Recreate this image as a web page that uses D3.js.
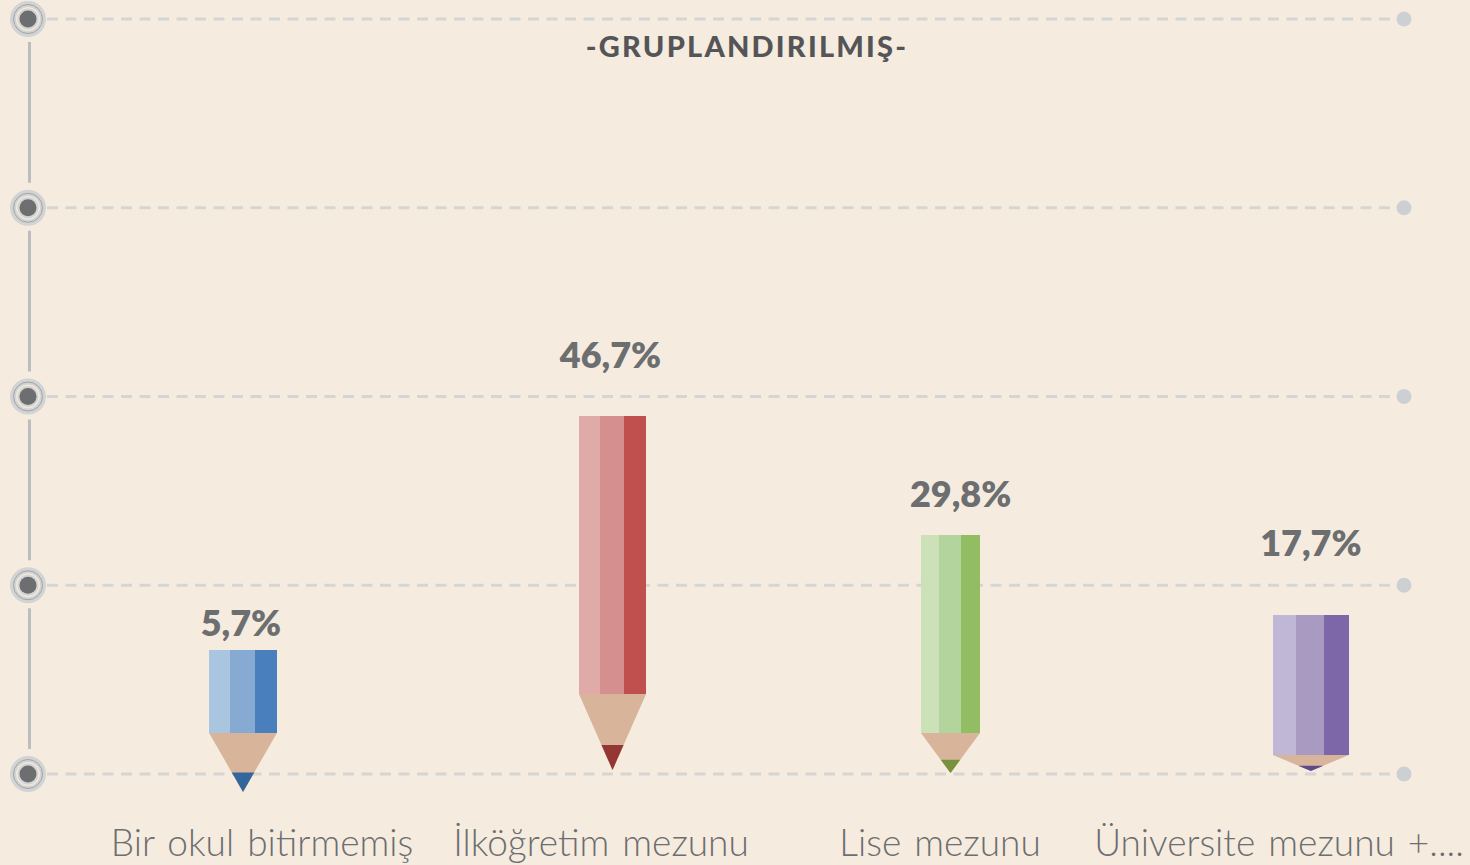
<!DOCTYPE html>
<html>
<head>
<meta charset="utf-8">
<script src="https://cdn.jsdelivr.net/npm/d3@7"></script>
<style>
  body { margin: 0; background: #f5ecdf; }
  svg { display: block; }
</style>
</head>
<body>
<div id="chart"></div>
<script>
// data
const categories = ['Bir okul bitirmemiş', 'İlköğretim mezunu', 'Lise mezunu', 'Üniversite mezunu +....'];
const values = [5.7, 46.7, 29.8, 17.7];
const gridLevels = [0, 1, 2, 3, 4];
const title = '-GRUPLANDIRILMIŞ-';

// pencil look (grid units / band fractions)
const pencilBase = [0.217, 0.424, 0.217, 0.101];
const pencilPoint = [-0.095, 0.021, 0.005, 0.016];
const labelLevel = [0.731, 2.151, 1.415, 1.155];
const labelShift = [-0.006, -0.006, 0.03, 0];
const pencilShift = [-0.056, 0.034, 0.031, 0.094];
const pencilWidth = [0.2, 0.198, 0.174, 0.224];

const stripeColors = [
  ['#aac5e0', '#87aad3', '#4a7fbd'],
  ['#e0aaa9', '#d48f8e', '#c0504d'],
  ['#cde1b9', '#b3d49c', '#93bd62'],
  ['#c0b6d5', '#a99ac2', '#7d67a8'],
];
const leadColors = ['#33669c', '#943634', '#76923c', '#5f4a8b'];
const woodColor = '#d8b49a';
const stripeShare = [0.31, 0.36, 0.33];
const leadShare = 0.33;

const WIDTH = 1470;
const HEIGHT = 865;
const LINE_LEFT = 47;
const LINE_RIGHT = 1396;
const AXIS_X = 28;
const textGray = '#6d6e70';

const trLocale = d3.formatLocale({ decimal: ',', thousands: '.', grouping: [3], currency: ['', ''] });
const pct = (v) => trLocale.format('.1f')(v) + '%';

const svg = d3.select('#chart').append('svg').attr('width', WIDTH).attr('height', HEIGHT);

svg.append('rect').attr('width', WIDTH).attr('height', HEIGHT).attr('fill', '#f5ecdf');

const yScale = d3.scaleLinear().domain([0, 4]).range([774, 19]);
const lengthScale = d3.scaleLinear().domain([0, 50]).range([0.296, 1.557]);
const xScale = d3.scaleBand().domain(categories).range([92.5, 1448.5]);

// grid lines
svg
  .append('g')
  .selectAll('line')
  .data(gridLevels)
  .join('line')
  .attr('x1', LINE_LEFT)
  .attr('x2', LINE_RIGHT)
  .attr('y1', (d) => yScale(d))
  .attr('y2', (d) => yScale(d))
  .attr('stroke', '#d5d5d3')
  .attr('stroke-width', 3)
  .attr('stroke-dasharray', '11 7.5');

svg
  .append('g')
  .selectAll('circle')
  .data(gridLevels)
  .join('circle')
  .attr('cx', 1404)
  .attr('cy', (d) => yScale(d))
  .attr('r', 7.5)
  .attr('fill', '#cdd0d2');

// vertical axis pieces between the markers
svg
  .append('g')
  .selectAll('line')
  .data(gridLevels.slice(1))
  .join('line')
  .attr('x1', AXIS_X + 1.5)
  .attr('x2', AXIS_X + 1.5)
  .attr('y1', (d) => yScale(d) + 23)
  .attr('y2', (d) => yScale(d - 1) - 25)
  .attr('stroke', '#bcbdbe')
  .attr('stroke-width', 3);

const markers = svg
  .append('g')
  .selectAll('g')
  .data(gridLevels)
  .join('g')
  .attr('transform', (d) => `translate(${AXIS_X}, ${yScale(d)})`);

markers.append('circle').attr('r', 18).attr('fill', '#d2d3d4');
markers.append('circle').attr('r', 14.5).attr('fill', 'none').attr('stroke', '#a2a3a5').attr('stroke-width', 1);
markers.append('circle').attr('r', 12).attr('fill', '#f1e8da');
markers.append('circle').attr('r', 10.5).attr('fill', '#d2d3d4');
markers.append('circle').attr('r', 8.5).attr('fill', textGray);

// title
svg
  .append('text')
  .attr('x', 747)
  .attr('y', 57)
  .attr('text-anchor', 'middle')
  .attr('font-family', 'Lato, sans-serif')
  .attr('font-weight', 900)
  .attr('font-size', 29)
  .attr('letter-spacing', 2.2)
  .attr('fill', '#555557')
  .text(title);

// pencils
svg
  .append('g')
  .selectAll('g')
  .data(values)
  .join('g')
  .each(function (v, i) {
    const g = d3.select(this);
    const band = xScale.bandwidth();
    const cx = xScale(categories[i]) + band * (0.5 + pencilShift[i]);
    const w = band * pencilWidth[i];
    const yTop = yScale(pencilBase[i] + lengthScale(v));
    const yBase = yScale(pencilBase[i]);
    const yTip = yScale(pencilPoint[i]);

    let x0 = cx - w / 2;
    stripeShare.forEach((s, k) => {
      g.append('rect')
        .attr('x', x0)
        .attr('y', yTop)
        .attr('width', w * s + (k < 2 ? 0.5 : 0))
        .attr('height', yBase - yTop)
        .attr('fill', stripeColors[i][k])
        .attr('shape-rendering', 'crispEdges');
      x0 += w * s;
    });

    g.append('path')
      .attr('d', `M${cx - w / 2},${yBase}L${cx + w / 2},${yBase}L${cx},${yTip}Z`)
      .attr('fill', woodColor);

    const leadY = yTip - (yTip - yBase) * leadShare;
    const hw = (w / 2) * leadShare;
    g.append('path')
      .attr('d', `M${cx - hw},${leadY}L${cx + hw},${leadY}L${cx},${yTip}Z`)
      .attr('fill', leadColors[i]);

    g.append('text')
      .attr('x', cx + band * labelShift[i])
      .attr('y', yScale(labelLevel[i]))
      .attr('text-anchor', 'middle')
      .attr('font-family', 'Lato, sans-serif')
      .attr('font-weight', 800)
      .attr('font-size', 36)
      .attr('fill', textGray)
      .text(pct(v));
  });

// category axis
const axis = svg
  .append('g')
  .attr('transform', 'translate(0, 856)')
  .call(d3.axisBottom(xScale).tickSize(0).tickPadding(0));
axis.select('.domain').remove();
axis
  .selectAll('text')
  .attr('y', 0)
  .attr('dy', 0)
  .attr('font-family', 'Lato, sans-serif')
  .attr('font-weight', 300)
  .attr('font-size', 37)
  .attr('word-spacing', 3)
  .attr('fill', textGray);
</script>
</body>
</html>
